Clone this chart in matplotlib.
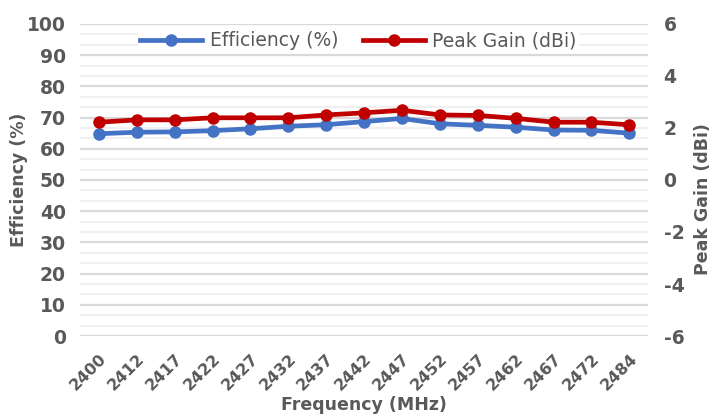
import numpy as np
import matplotlib
matplotlib.use("Agg")
import matplotlib.pyplot as plt
from matplotlib.lines import Line2D

# Data
freqs = ["2400", "2412", "2417", "2422", "2427", "2432", "2437", "2442",
         "2447", "2452", "2457", "2462", "2467", "2472", "2484"]
efficiency = [64.8, 65.3, 65.4, 65.8, 66.4, 67.2, 67.7, 68.7,
              69.7, 68.0, 67.5, 66.9, 66.0, 65.9, 65.0]
peak_gain = [2.22, 2.31, 2.31, 2.39, 2.39, 2.39, 2.50, 2.58,
             2.68, 2.50, 2.48, 2.37, 2.22, 2.22, 2.12]
gain_ticks = [-6, -4, -2, 0, 2, 4, 6]

BLUE = "#4472C4"
RED = "#C00000"
TXT = "#595959"

fig = plt.figure(figsize=(7.26, 4.19), dpi=100)
ax = fig.add_axes([0.110, 0.198, 0.783, 0.745])
ax2 = ax.twinx()

x = np.arange(len(freqs))
ax.plot(x, efficiency, color=BLUE, lw=3.4, marker="o", ms=8, zorder=3)
ax2.plot(x, peak_gain, color=RED, lw=3.4, marker="o", ms=8, zorder=3)

ax.set_xlim(-0.5, len(freqs) - 0.5)
ax.set_ylim(0, 100)
ax2.set_ylim(-6, 6)
ax.set_yticks(np.arange(0, 101, 10))
ax.set_yticks(np.arange(0, 100.01, 10 / 3), minor=True)
ax2.set_yticks(gain_ticks)
# plain hyphen as in the original, not the unicode minus
ax2.set_yticklabels([str(t) for t in gain_ticks])

ax.set_axisbelow(True)
ax.grid(axis="y", which="major", color="#D9D9D9", lw=1.6)
ax.grid(axis="y", which="minor", color="#F0F0F0", lw=1.6)
ax.grid(axis="x", visible=False)

for a in (ax, ax2):
    for s in a.spines.values():
        s.set_visible(False)
    a.tick_params(length=0, which="both", colors=TXT)

ax.set_xticks(x)
ax.set_xticklabels(freqs, rotation=45, ha="right", rotation_mode="anchor",
                   fontsize=11.5, fontweight="bold", color=TXT)
ax.tick_params(axis="x", pad=11)
ax.tick_params(axis="y", labelsize=13.5, pad=10)
ax2.tick_params(axis="y", labelsize=13.5, pad=11)
for lab in ax.get_yticklabels() + ax2.get_yticklabels():
    lab.set_fontweight("bold")
    lab.set_color(TXT)

ax.set_xlabel("Frequency (MHz)", fontsize=12.5, fontweight="bold", color=TXT,
              labelpad=2)
ax.set_ylabel("Efficiency (%)", fontsize=12.5, fontweight="bold", color=TXT)
ax2.set_ylabel("Peak Gain (dBi)", fontsize=12.5, fontweight="bold", color=TXT)
ax.yaxis.set_label_coords(-0.092, 0.5)
ax2.yaxis.set_label_coords(1.08, 0.44)

handles = [Line2D([], [], color=BLUE, lw=3.4, marker="o", ms=8),
           Line2D([], [], color=RED, lw=3.4, marker="o", ms=8)]
leg = ax2.legend(handles, ["Efficiency (%)", "Peak Gain (dBi)"], ncol=2,
                 loc="upper center", bbox_to_anchor=(0.49, 1.015),
                 frameon=True, facecolor="white", edgecolor="none",
                 framealpha=1, fontsize=13.5, handlelength=3.3,
                 columnspacing=1.3, handletextpad=0.4, borderpad=0.15)
for t in leg.get_texts():
    t.set_color(TXT)
leg.set_zorder(10)

fig.savefig("out.png", dpi=100)
